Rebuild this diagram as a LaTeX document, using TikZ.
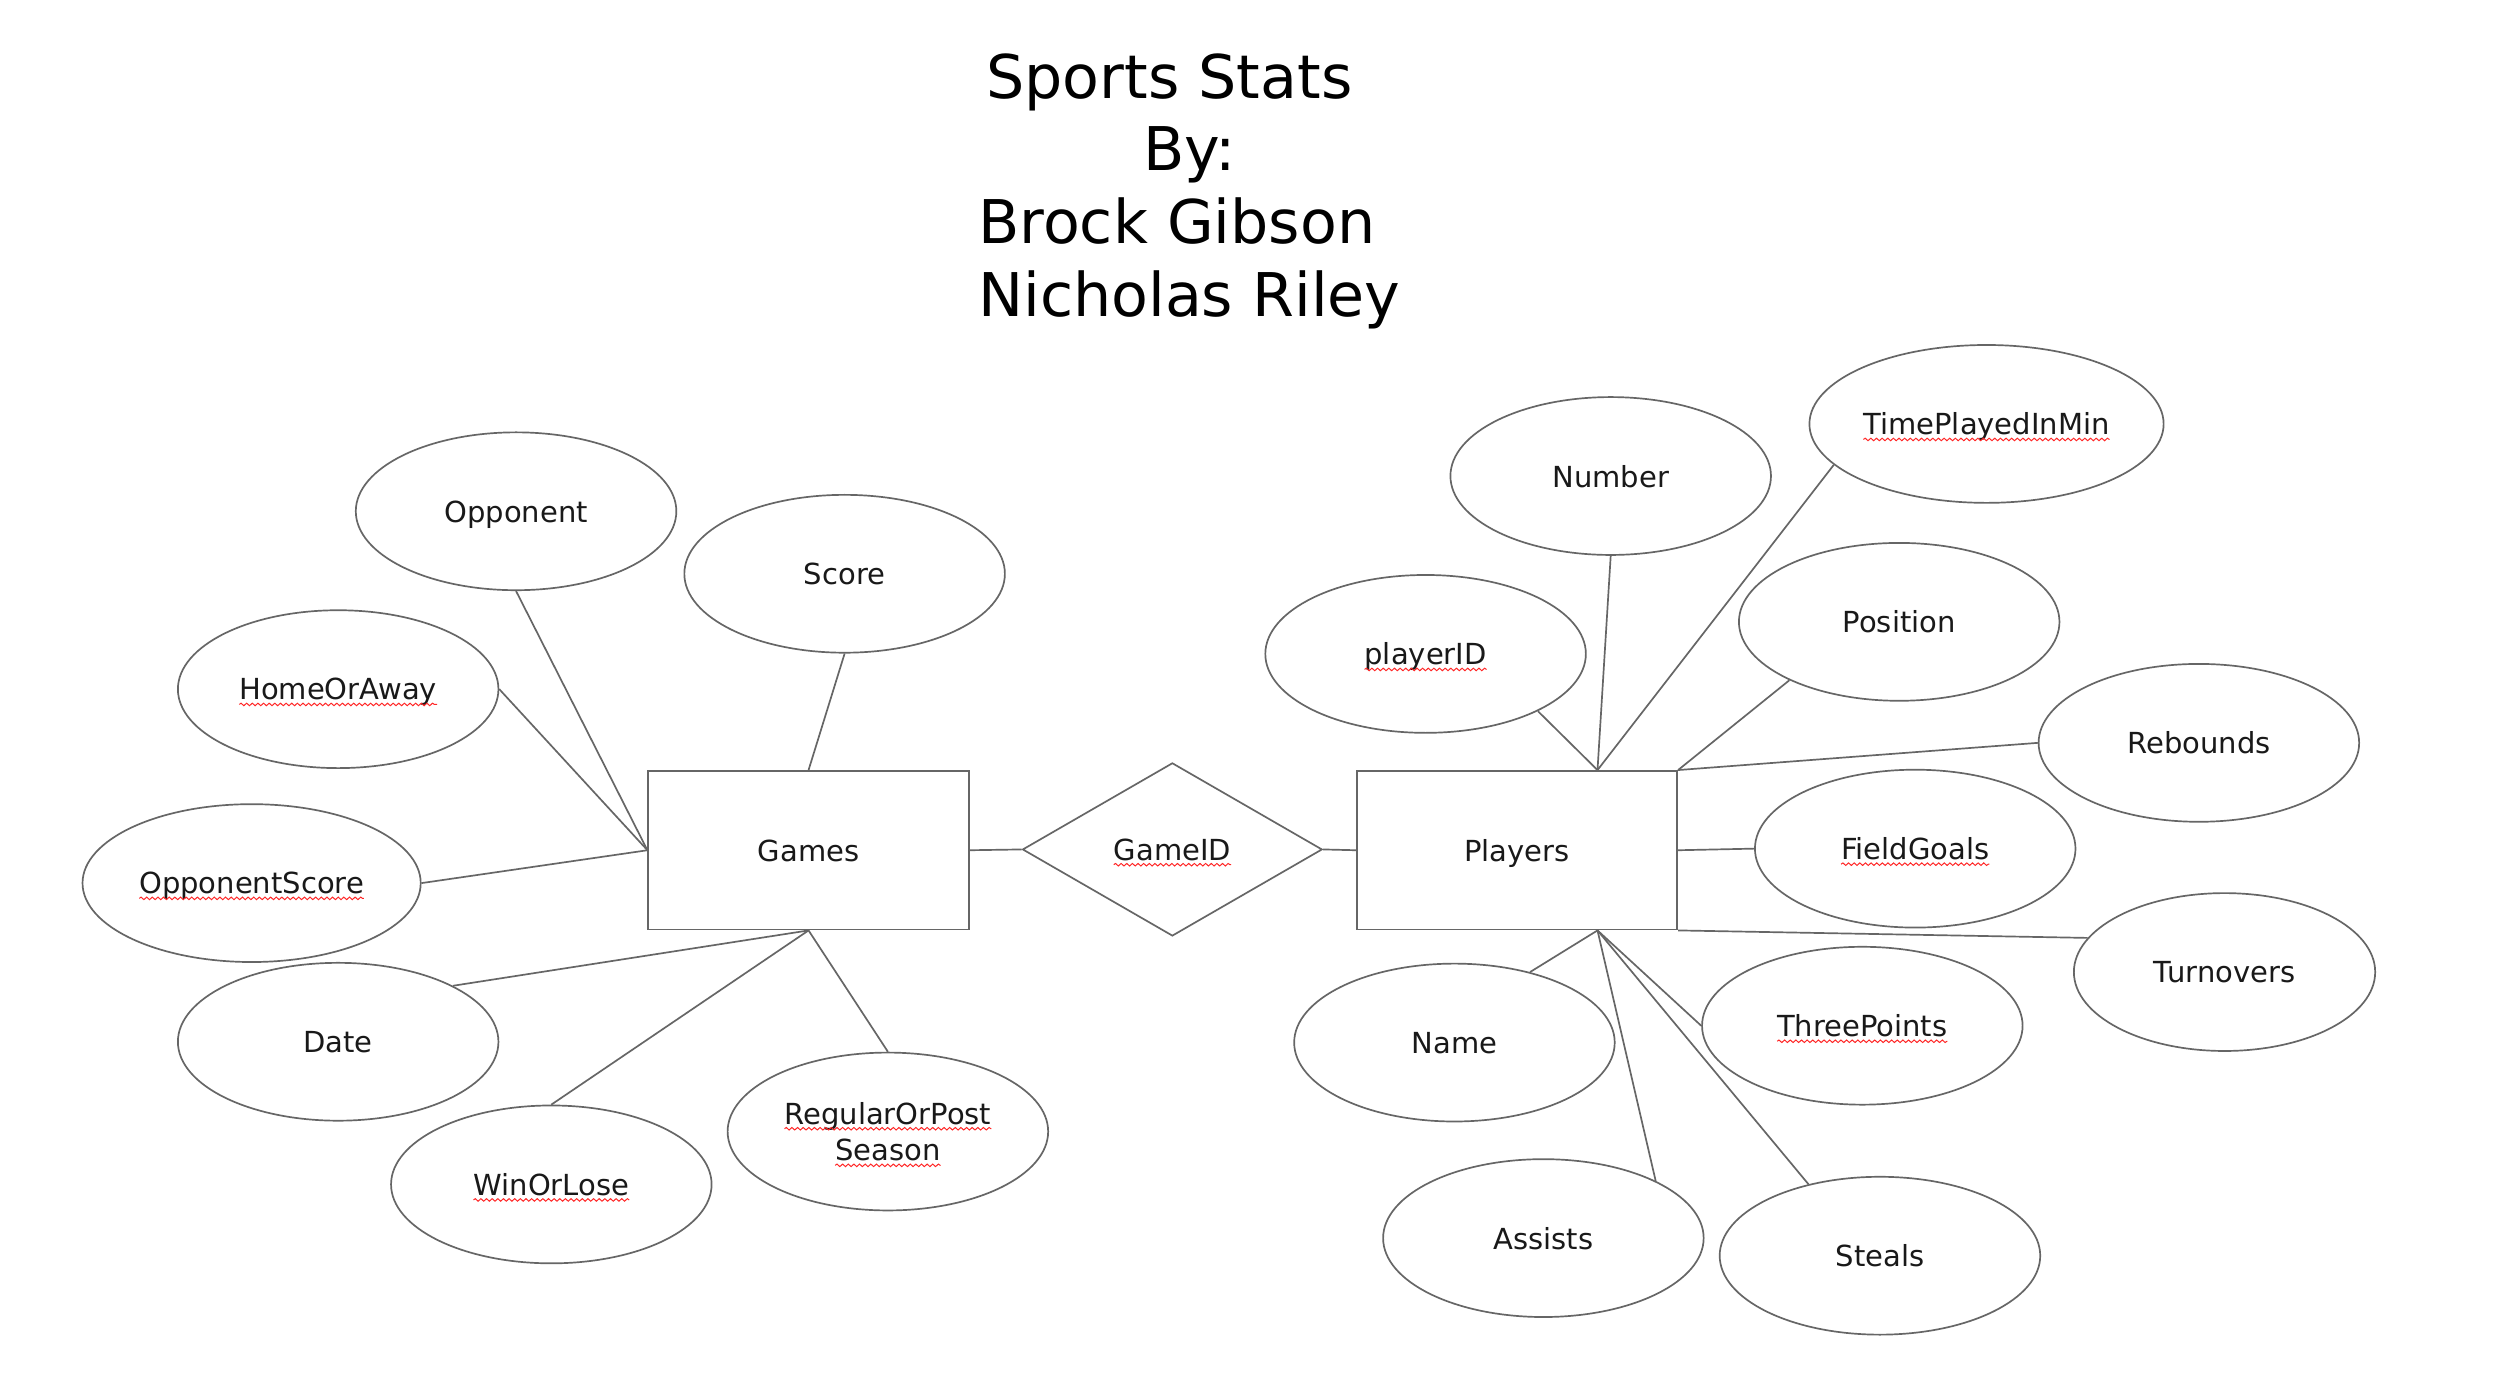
\documentclass[tikz,border=0pt]{standalone}
\usepackage{fontspec}
\setmainfont{DejaVu Sans}
\usepackage{tikz}
\usetikzlibrary{shapes.geometric, calc, decorations.pathmorphing}

\tikzset{
    spell/.style={draw=red!85!white, line width=0.35pt, decorate, decoration={snake, amplitude=0.45pt, segment length=2pt}}
}
% wavy red line under the words the spell checker marked
\newcommand{\sq}[1]{\tikz[baseline=(sqw.base)]{\node[rectangle, draw=none, fill=none, inner sep=0pt, outer sep=0pt, minimum width=0pt, minimum height=0pt] (sqw) {#1}; \draw[spell, overlay] ([yshift=-1.6pt]sqw.base west) -- ([yshift=-1.6pt]sqw.base east);}}

\begin{document}
\begin{tikzpicture}[x=0.2mm, y=-0.2mm,
    attr/.style={draw=black!60, ellipse, line width=0.6pt, minimum width=4cm, minimum height=1.97cm, inner sep=0pt, text depth=0pt, align=center, text=black!90, font={\fontsize{10.3}{13}\selectfont}},
    entity/.style={draw=black!60, rectangle, line width=0.6pt, minimum width=4cm, minimum height=1.98cm, inner sep=0pt, text depth=0pt, text=black!90, font={\fontsize{10.3}{13}\selectfont}},
    relation/.style={draw=black!60, diamond, aspect=1.73, line width=0.6pt, minimum width=3.74cm, minimum height=2.16cm, inner sep=0pt, text depth=0pt, text=black!90, font={\fontsize{10.3}{13}\selectfont}},
    link/.style={draw=black!60, line width=0.6pt}
]
    \path[use as bounding box, fill=white] (0,0) rectangle (1568,865);

    \node[anchor=north west, inner sep=0pt, align=left, font={\fontsize{21.4}{25.8}\selectfont}] (title) at (610,33) {\hspace*{1mm}Sports Stats\\\hspace*{20.6mm}By:\\Brock Gibson\\Nicholas Riley};

    % Games side
    \node[attr] (opp) at (322,319) {Opponent};
    \node[attr] (score) at (527,358) {Score};
    \node[attr] (hoa) at (211,430) {\sq{HomeOrAway}};
    \node[attr, minimum width=4.22cm] (oppscore) at (157,551) {\sq{OpponentScore}};
    \node[attr] (date) at (211,650) {Date};
    \node[attr] (winlose) at (344,739) {\sq{WinOrLose}};
    \node[attr] (regpost) at (554,706) {\sq{RegularOrPost}\\\sq{Season}};
    \node[entity] (games) at (504.5,530.5) {Games};

    \node[relation] (gameid) at (731.5,530) {\sq{GameID}};

    % Players side
    \node[entity] (players) at (946.5,530.5) {Players};
    \node[attr] (number) at (1005,297) {Number};
    \node[attr, minimum width=4.42cm, inner xsep=-3pt] (timeplayed) at (1239.5,264.5) {\sq{TimePlayedInMin}};
    \node[attr] (playerid) at (889.5,408) {\sq{playerID}};
    \node[attr] (position) at (1185,388) {Position};
    \node[attr] (rebounds) at (1372,463.5) {Rebounds};
    \node[attr] (fieldgoals) at (1195,529.5) {\sq{FieldGoals}};
    \node[attr, minimum width=3.76cm] (turnovers) at (1388,606.5) {Turnovers};
    \node[attr] (name) at (907.5,650.5) {Name};
    \node[attr] (threepts) at (1162,640) {\sq{ThreePoints}};
    \node[attr] (assists) at (963,772.5) {Assists};
    \node[attr] (steals) at (1173,783.5) {Steals};

    \coordinate (ptop) at ($(players.north)!.5!(players.north east)$);
    \coordinate (pbot) at ($(players.south)!.5!(players.south east)$);

    \draw[link] (opp.south) -- (games.west);
    \draw[link] (hoa.east) -- (games.west);
    \draw[link] (oppscore.east) -- (games.west);
    \draw[link] (score.south) -- (games.north);
    \draw[link] (date.26) -- (games.south);
    \draw[link] (winlose.north) -- (games.south);
    \draw[link] (regpost.north) -- (games.south);
    \draw[link] (games.east) -- (gameid.west);
    \draw[link] (gameid.east) -- (players.west);

    \draw[link] (playerid.-27) -- (ptop);
    \draw[link] (number.south) -- (ptop);
    \draw[link] (timeplayed.195) -- (ptop);
    \draw[link] (position.208) -- (players.north east);
    \draw[link] (rebounds.west) -- (players.north east);
    \draw[link] (fieldgoals.west) -- (players.east);
    \draw[link] (turnovers.166) -- (players.south east);
    \draw[link] (name.43) -- (pbot);
    \draw[link] (threepts.west) -- (pbot);
    \draw[link] (assists.27) -- (pbot);
    \draw[link] (steals.135) -- (pbot);
\end{tikzpicture}
\end{document}
